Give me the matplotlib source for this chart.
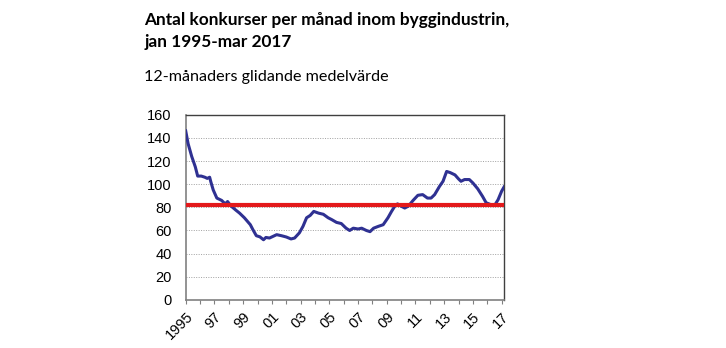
import matplotlib
matplotlib.use("Agg")
import matplotlib.pyplot as plt

# 12-month moving average of monthly bankruptcies, months counted from jan 1995
months = [0, 2, 5, 8, 10, 13, 16, 18, 20, 21, 23, 26, 30, 33, 35, 38, 42, 45, 49,
          54, 56, 59, 62, 65, 67, 70, 76, 80, 84, 88, 91, 95, 98, 101, 104, 107,
          111, 115, 119, 122, 126, 130, 134, 137, 140, 144, 147, 151, 154, 157,
          161, 165, 169, 172, 175, 177, 180, 183, 186, 190, 194, 198, 202, 205,
          208, 212, 215, 218, 221, 225, 228, 230, 233, 237, 240, 244, 248, 251,
          255, 258, 261, 264, 266]
values = [146, 135, 124, 115, 107, 107, 106, 105, 106, 102, 95, 88, 86, 83, 85,
          81, 77.5, 75, 71, 65, 61, 55.5, 54.5, 52, 54, 53.5, 56.4, 55.5, 54.4,
          52.7, 53.5, 58, 63.6, 71, 73, 76.5, 75, 74, 71, 69.4, 67, 66, 62, 60,
          62, 61.3, 62, 60, 59, 62, 63.6, 65, 71, 76.5, 81.5, 83, 81, 79.4, 81,
          86, 90.4, 91, 88, 88, 91, 98, 102.5, 111, 110, 108, 104.5, 102.5, 104,
          104, 101, 96, 89.5, 84, 82.3, 81.5, 86.6, 94, 97.6]
mean_level = 82

tick_months = list(range(0, 265, 12))
tick_labels = ["1995" if m == 0 else ("%02d" % ((95 + m // 12) % 100) if (m // 12) % 2 == 0 else "")
               for m in tick_months]
y_ticks = list(range(0, 161, 20))

plt.rcParams['font.family'] = ['Liberation Sans', 'DejaVu Sans']

fig = plt.figure(figsize=(7.26, 3.48), dpi=100)
ax = fig.add_axes([0.2558, 0.138, 0.4385, 0.5324])

ax.plot(months, values, color='#2f3192', lw=2.2, zorder=3)
ax.axhline(mean_level, color='#e3191b', lw=3.0, zorder=4)

ax.set_xlim(0, 266)
ax.set_ylim(0, 160)
ax.set_yticks(y_ticks)
ax.set_yticklabels([str(v) for v in y_ticks], fontsize=10.5)
ax.set_xticks(tick_months)
ax.set_xticklabels(tick_labels, rotation=45, ha='right', va='top',
                   rotation_mode='anchor', fontsize=10.5)
ax.tick_params(axis='x', length=3, width=0.8, color='#808080', pad=4)
ax.tick_params(axis='y', length=0, pad=10)
ax.grid(axis='y', color='#a0a0a0', ls=(0, (1, 1.5)), lw=0.7)

for side in ['left', 'bottom']:
    ax.spines[side].set_color('#808080')
    ax.spines[side].set_linewidth(1.2)
for side in ['top', 'right']:
    ax.spines[side].set_color('#404040')
    ax.spines[side].set_linewidth(1.0)

fig.text(0.199, 0.855, "Antal konkurser per månad inom byggindustrin,\njan 1995-mar 2017",
         fontsize=12.4, fontweight='bold', family=['Lato', 'DejaVu Sans'],
         ha='left', va='bottom', linespacing=1.5)
fig.text(0.199, 0.80, "12-månaders glidande medelvärde", fontsize=11.6,
         family=['Lato', 'DejaVu Sans'], ha='left', va='top')

fig.savefig("out.png", dpi=100)
